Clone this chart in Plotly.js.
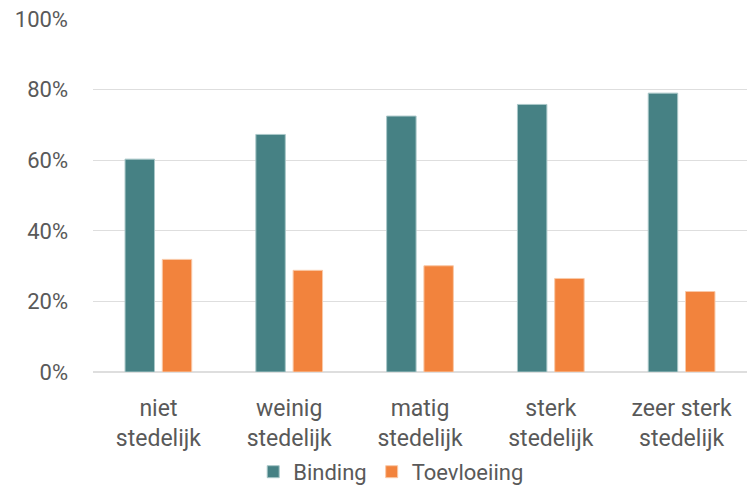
<!DOCTYPE html>
<html>
<head>
<meta charset="utf-8">
<script src="https://cdn.plot.ly/plotly-3.0.1.min.js"></script>
<style>html,body{margin:0;padding:0;background:#fff;}#chart{width:748px;height:488px;}</style>
</head>
<body>
<div id="chart"></div>
<script>
const categories = ["niet<br>stedelijk", "weinig<br>stedelijk", "matig<br>stedelijk", "sterk<br>stedelijk", "zeer sterk<br>stedelijk"];
const binding = [60.3, 67.3, 72.5, 75.8, 79.0];
const toevloeiing = [31.9, 28.8, 30.1, 26.5, 22.8];
const seriesNames = ["Binding", "Toevloeiing"];
const yTicks = [0, 20, 40, 60, 80, 100];

const font = "Roboto, 'DejaVu Sans', sans-serif";
const traces = [
  {type: 'bar', name: seriesNames[0], x: categories, y: binding,
   marker: {color: '#468184', line: {color: '#a9c7c8', width: 1}}},
  {type: 'bar', name: seriesNames[1], x: categories, y: toevloeiing,
   marker: {color: '#f2833d', line: {color: '#f9c9a8', width: 1}}}
];
const layout = {
  width: 748, height: 488,
  margin: {l: 93, r: 1, t: 19, b: 116, autoexpand: false},
  paper_bgcolor: '#ffffff', plot_bgcolor: '#ffffff',
  font: {family: font, size: 21, color: '#595959'},
  barmode: 'group', bargap: 0.43, bargroupgap: 0.21,
  showlegend: true,
  legend: {orientation: 'h', xref: 'container', yref: 'container', x: 0.523, xanchor: 'center', y: 0.033, yanchor: 'middle',
           font: {family: font, size: 22, color: '#595959'}, itemwidth: 30, tracegroupgap: 0},
  xaxis: {type: 'category', showgrid: false, ticks: '', showline: false, zeroline: false,
          tickfont: {family: font, size: 23, color: '#595959'}, ticklabelstandoff: 20, automargin: false},
  yaxis: {range: [0, 100], tickvals: yTicks, ticktext: yTicks.map(v => v + '%'),
          showgrid: true, gridcolor: '#dedede', gridwidth: 1, zeroline: true, zerolinecolor: '#dedede', zerolinewidth: 1.5,
          ticks: '', tickfont: {family: font, size: 22, color: '#595959'}, ticklabelstandoff: 24, automargin: false}
};
Plotly.newPlot('chart', traces, layout, {displayModeBar: false, staticPlot: true});
</script>
</body>
</html>
